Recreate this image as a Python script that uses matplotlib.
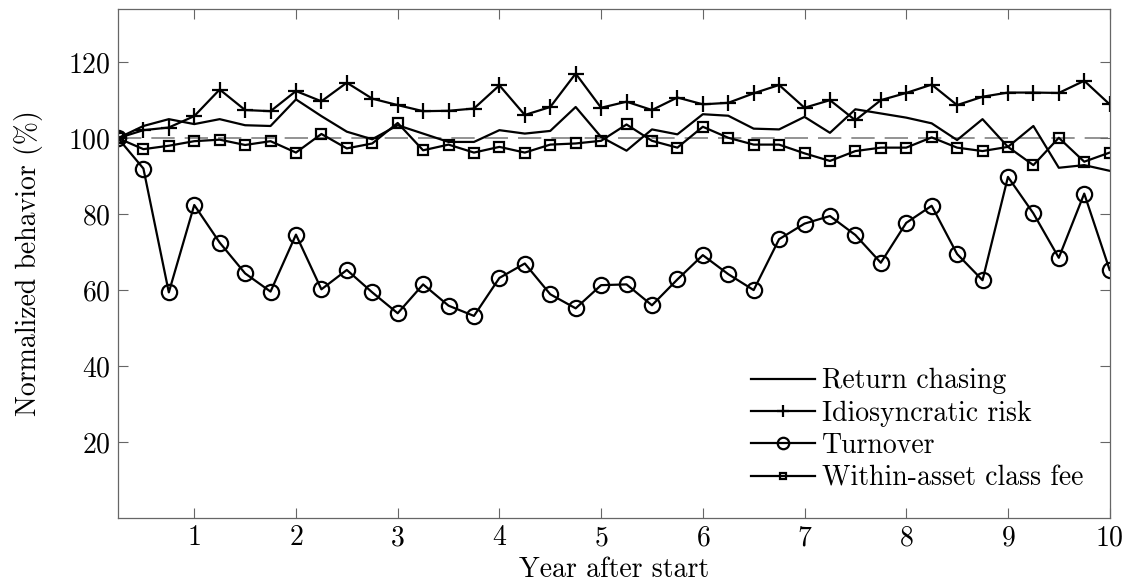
import matplotlib
matplotlib.use('Agg')
import matplotlib.pyplot as plt
import numpy as np

plt.rcParams['font.family'] = ['cmr10', 'DejaVu Serif']
plt.rcParams['mathtext.fontset'] = 'cm'
plt.rcParams['axes.formatter.use_mathtext'] = True

years = np.arange(1, 41) * 0.25

return_chasing = [100, 103.2, 105.0, 103.7, 105.0, 103.4, 103.2, 110.2, 105.8, 101.7,
                  99.7, 103.4, 101.2, 99.0, 99.0, 102.1, 101.2, 101.9, 108.2, 100.3,
                  96.7, 102.3, 101.0, 106.3, 105.9, 102.5, 102.3, 105.6, 101.4, 107.6,
                  106.5, 105.4, 103.9, 99.5, 105.0, 97.7, 103.2, 92.2, 92.9, 91.4]
idio_risk = [100, 102.1, 102.8, 105.8, 112.8, 107.4, 107.1, 112.4, 109.7, 114.6,
             110.4, 108.7, 107.1, 107.2, 107.8, 113.9, 106.1, 108.2, 117.0, 108.0,
             109.6, 107.4, 110.7, 108.9, 109.3, 111.8, 114.0, 108.0, 110.0, 104.7,
             110.0, 111.9, 114.1, 108.7, 110.9, 112.0, 112.0, 111.9, 115.1, 108.9]
turnover = [100, 92.0, 59.4, 82.4, 72.5, 64.4, 59.6, 74.6, 60.2, 65.3,
            59.4, 53.9, 61.5, 55.9, 53.2, 63.2, 67.0, 58.9, 55.2, 61.3,
            61.5, 56.0, 62.8, 69.2, 64.2, 60.0, 73.4, 77.5, 79.5, 74.5,
            67.2, 77.7, 82.2, 69.5, 62.6, 89.8, 80.2, 68.5, 85.4, 65.3]
fee = [100, 97.1, 98.0, 99.2, 99.6, 98.2, 99.2, 96.2, 101.1, 97.3,
       98.6, 104.0, 96.8, 98.3, 96.2, 97.7, 96.2, 98.3, 98.6, 99.3,
       103.6, 99.3, 97.5, 103.0, 100.1, 98.3, 98.3, 96.0, 94.0, 96.6,
       97.5, 97.5, 100.2, 97.5, 96.6, 97.7, 92.9, 100.1, 93.8, 96.2]

fig = plt.figure(figsize=(11.3, 5.84), dpi=100)
ax = fig.add_axes([0.1044, 0.113, 0.8776, 0.8716])

ax.axhline(100, color='0.5', linestyle=(0, (14, 6)), linewidth=1.2, zorder=1)

ax.plot(years, return_chasing, color='black', linewidth=1.6, label='Return chasing')
ax.plot(years, idio_risk, color='black', linewidth=1.6, marker='+', markersize=11.5,
        markeredgewidth=1.6, label='Idiosyncratic risk')
ax.plot(years, turnover, color='black', linewidth=1.6, marker='o', markersize=11,
        markerfacecolor='none', markeredgewidth=1.6, label='Turnover')
ax.plot(years, fee, color='black', linewidth=1.6, marker='s', markersize=6.5,
        markerfacecolor='none', markeredgewidth=1.6, label='Within-asset class fee')

ax.set_xlim(0.25, 10)
ax.set_ylim(0, 134)
ax.set_xticks(range(1, 11))
ax.set_yticks([20, 40, 60, 80, 100, 120])
ax.tick_params(direction='in', top=True, right=True, length=7, width=0.8,
               color='0.4', labelsize=20, pad=5)
for s in ax.spines.values():
    s.set_color('0.4')
    s.set_linewidth(0.9)

ax.set_xlabel('Year after start', fontsize=20, labelpad=4)
ax.set_ylabel('Normalized behavior (%)', fontsize=20, labelpad=18)

leg = ax.legend(loc='lower right', frameon=False, fontsize=20, handlelength=2.3,
                labelspacing=0.22, handletextpad=0.25, borderaxespad=0.55,
                markerscale=0.75)

plt.savefig('out.png', dpi=100)
